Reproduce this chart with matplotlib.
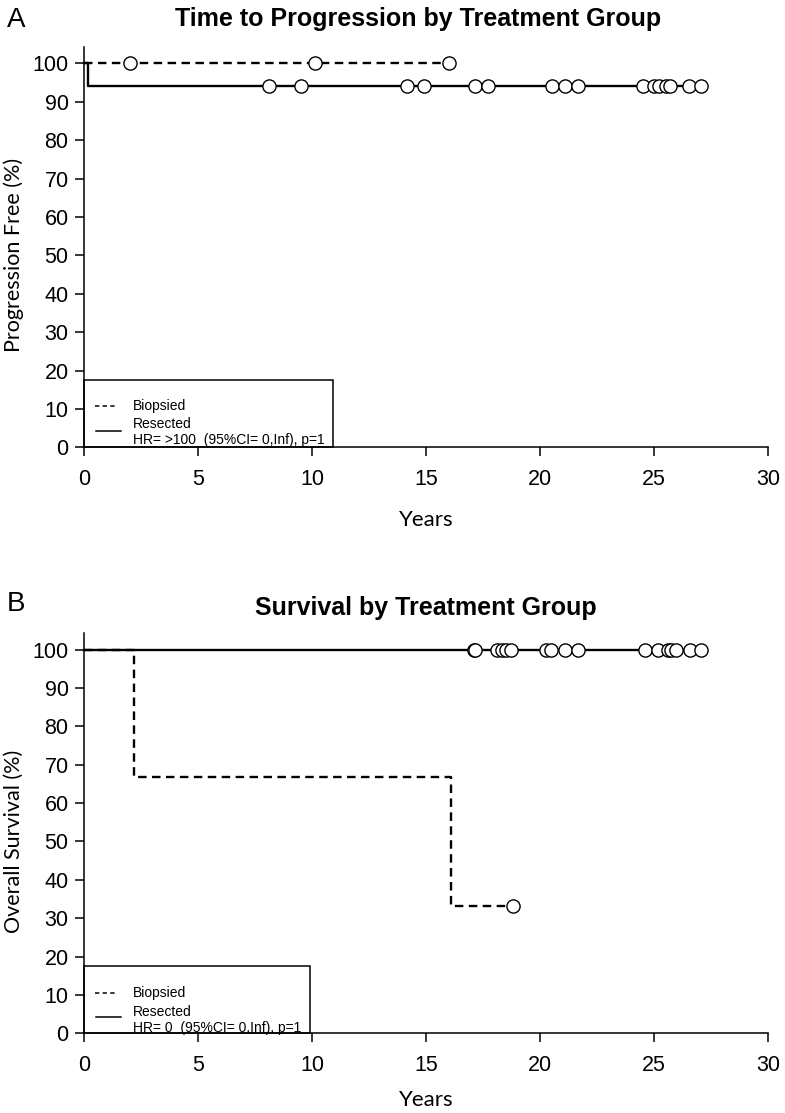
import matplotlib
matplotlib.use('Agg')
import matplotlib.pyplot as plt
from matplotlib.patches import Rectangle

# ===== DATA =====
# Panel A: time to progression
prog_bio_times = [0, 16.0]
prog_bio_surv = [100, 100]
prog_bio_cens = [2.0, 10.1, 16.0]

prog_res_times = [0, 0.16, 27.05]
prog_res_surv = [100, 94.1, 94.1]
prog_res_cens = [8.1, 9.5, 14.15, 14.9, 17.15, 17.7, 20.5, 21.1, 21.65,
                 24.5, 25.0, 25.2, 25.5, 25.7, 26.5, 27.05]

# Panel B: overall survival
surv_bio_times = [0, 2.17, 16.1, 18.8]
surv_bio_surv = [100, 66.7, 33.3, 33.3]
surv_bio_cens = [18.8]

surv_res_times = [0, 27.05]
surv_res_surv = [100, 100]
surv_res_cens = [17.1, 17.15, 18.1, 18.3, 18.5, 18.7, 20.25, 20.45, 21.1, 21.65,
                 24.6, 25.15, 25.6, 25.75, 25.95, 26.55, 27.05]

hr_text = ['HR= >100  (95%CI= 0,Inf), p=1', 'HR= 0  (95%CI= 0,Inf), p=1']
titles = ['Time to Progression by Treatment Group', 'Survival by Treatment Group']
ylabels = ['Progression Free (%)', 'Overall Survival (%)']
x_ticks = [0, 5, 10, 15, 20, 25, 30]
y_ticks = list(range(0, 101, 10))

# ===== STYLE =====
W, H = 785, 1113
plt.rcParams['font.family'] = ['Liberation Sans', 'DejaVu Sans']
dash = (0, (3.6, 2.3))
lw = 1.7
mk = dict(marker='o', markersize=9.5, markerfacecolor='white',
          markeredgecolor='black', markeredgewidth=1.0, linestyle='none',
          clip_on=False, zorder=5)

fig = plt.figure(figsize=(W / 100, H / 100), dpi=100)


def px(x, y):
    return x / W, 1 - y / H


def level(times, surv, t):
    # curve value at time t (censor marks sit on the curve)
    v = surv[0]
    for tt, ss in zip(times, surv):
        if tt <= t:
            v = ss
    return v


def draw_panel(rect, bio, res, hr, box_w, txt_y, xpad):
    ax = fig.add_axes(rect)
    ax.set_xlim(0, 30)
    ax.set_ylim(0, 104.2)
    for s in ['top', 'right']:
        ax.spines[s].set_visible(False)
    for s in ['left', 'bottom']:
        ax.spines[s].set_linewidth(1.1)
    ax.set_xticks(x_ticks)
    ax.set_yticks(y_ticks)
    ax.tick_params(direction='out', length=6.8, width=1.1, labelsize=15.5)
    ax.tick_params(axis='x', pad=xpad)
    ax.tick_params(axis='y', pad=4.5)

    bt, bs, bc = bio
    rt, rs, rc = res
    ax.step(rt, rs, where='post', color='black', lw=lw, clip_on=False, zorder=3)
    ax.step(bt, bs, where='post', color='black', lw=lw, linestyle=dash,
            clip_on=False, zorder=4)
    ax.plot(rc, [level(rt, rs, t) for t in rc], **mk)
    ax.plot(bc, [level(bt, bs, t) for t in bc], **mk)

    # legend box (R style)
    ax.add_patch(Rectangle((0, 0), box_w, 17.6, fill=False, edgecolor='black',
                           lw=1.1, clip_on=False, zorder=2))
    yb, yr, ys, yh = txt_y
    ax.plot([0.47, 1.43], [yb, yb], color='black', lw=1.1, linestyle=(0, (2.8, 2.2)))
    ax.plot([0.51, 1.6], [ys, ys], color='black', lw=1.1)
    ax.text(2.15, yb, 'Biopsied', fontsize=10, va='center')
    ax.text(2.15, yr, 'Resected', fontsize=10, va='center')
    ax.text(2.15, yh, hr, fontsize=10, va='center')
    return ax


# Panel A
ax1 = draw_panel([84.3 / W, (H - 447.3) / H, 684 / W, 400 / H],
                 (prog_bio_times, prog_bio_surv, prog_bio_cens),
                 (prog_res_times, prog_res_surv, prog_res_cens),
                 hr_text[0], 10.9, (10.75, 6.1, 4.3, 1.9), 9)
# Panel B
ax2 = draw_panel([84.3 / W, (H - 1033.4) / H, 684 / W, 400 / H],
                 (surv_bio_times, surv_bio_surv, surv_bio_cens),
                 (surv_res_times, surv_res_surv, surv_res_cens),
                 hr_text[1], 9.9, (10.6, 5.7, 4.3, 1.5), 9)

# titles, panel letters and axis labels
fig.text(*px(418, 19), titles[0], fontsize=18, fontweight='bold', ha='center', va='center')
fig.text(*px(426, 608), titles[1], fontsize=18, fontweight='bold', ha='center', va='center')
fig.text(*px(16, 20), 'A', fontsize=20, ha='center', va='center')
fig.text(*px(16, 604), 'B', fontsize=20, ha='center', va='center')

fig.text(*px(14, 255), ylabels[0], fontsize=15.5, family=['Lato', 'DejaVu Sans'],
         rotation=90, ha='center', va='center')
fig.text(*px(14, 841), ylabels[1], fontsize=15.5, family=['Lato', 'DejaVu Sans'],
         rotation=90, ha='center', va='center')
fig.text(*px(426, 520), 'Years', fontsize=16, family=['Lato', 'DejaVu Sans'],
         ha='center', va='center')
fig.text(*px(426, 1100), 'Years', fontsize=16, family=['Lato', 'DejaVu Sans'],
         ha='center', va='center')

fig.savefig('out.png', dpi=100)
